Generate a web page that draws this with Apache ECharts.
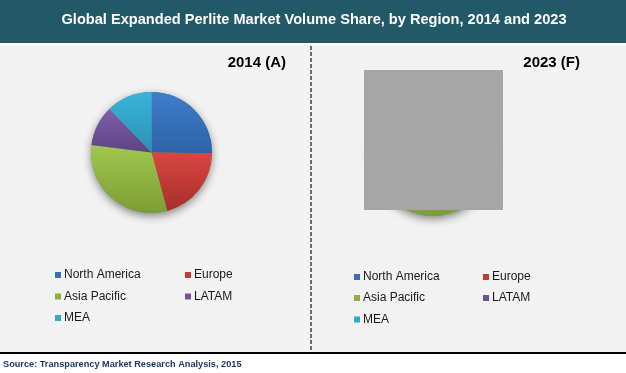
<!DOCTYPE html>
<html>
<head>
<meta charset="utf-8">
<script src="https://cdn.jsdelivr.net/npm/echarts@6/dist/echarts.min.js"></script>
<style>
html,body{margin:0;padding:0;background:#fff;}
#c{width:626px;height:373px;}
</style>
</head>
<body>
<div id="c"></div>
<script>
var regions = ['North America', 'Europe', 'Asia Pacific', 'LATAM', 'MEA'];
var share2014 = [25.2, 20.6, 31.2, 10.8, 12.2];
var share2023 = [24.0, 18.0, 35.0, 11.0, 12.0];
var titleText = 'Global Expanded Perlite Market Volume Share, by Region, 2014 and 2023';
var panelTitles = ['2014 (A)', '2023 (F)'];
var sourceText = 'Source: Transparency Market Research Analysis, 2015';

var gradTop = ['#3d7dcb', '#db4541', '#9fc84d', '#8060aa', '#38b5d8'];
var gradBot = ['#2e62a6', '#a62f2b', '#7c9d37', '#5c4285', '#2a92b3'];
var legendCol = ['#3a6fb8', '#c23a36', '#8fb03e', '#7350a0', '#34a8c8'];

var chart = echarts.init(document.getElementById('c'), null, {renderer: 'canvas'});

function pieData(vals) {
  return regions.map(function (r, i) {
    return {
      name: r, value: vals[i],
      itemStyle: {
        color: new echarts.graphic.LinearGradient(0, 0, 0, 1, [
          {offset: 0, color: gradTop[i]}, {offset: 1, color: gradBot[i]}
        ])
      }
    };
  });
}

function shadowPie(center, r) {
  return {
    type: 'pie', center: center, radius: r, silent: true, z: 1,
    label: {show: false}, labelLine: {show: false}, legendHoverLink: false,
    data: [{value: 1, name: '_shadow', itemStyle: {color: '#888',
      shadowBlur: 8, shadowOffsetY: 3, shadowOffsetX: 0, shadowColor: 'rgba(0,0,0,0.45)'}}],
    animation: false
  };
}

function mainPie(center, r, vals) {
  return {
    type: 'pie', center: center, radius: r, startAngle: 90, clockwise: true, z: 2,
    label: {show: false}, labelLine: {show: false},
    emphasis: {disabled: true},
    itemStyle: {borderWidth: 0},
    data: pieData(vals), animation: false
  };
}

var legendPos = [
  // left panel
  [55, 276, 0], [185, 276, 1], [55, 297.5, 2], [185, 297.5, 3], [55, 319, 4],
  // right panel
  [354, 278, 0], [483, 278, 1], [354, 299, 2], [483, 299, 3], [354, 320.5, 4]
];
var legends = legendPos.map(function (p) {
  var i = p[2];
  return {
    left: p[0], top: p[1] - 7, padding: 0, orient: 'horizontal',
    itemWidth: 6, itemHeight: 6, icon: 'rect', itemGap: 0,
    selectedMode: false,
    textStyle: {fontFamily: 'Liberation Sans, Arial, sans-serif', fontSize: 12, color: '#1a1a1a', padding: [0, 0, 0, -2]},
    data: [{name: regions[i], itemStyle: {color: legendCol[i]}}]
  };
});

var option = {
  backgroundColor: '#ffffff',
  animation: false,
  legend: legends,
  graphic: [
    {type: 'rect', shape: {x: 0, y: 0, width: 626, height: 43}, style: {fill: '#215967'}, z: -10},
    {type: 'rect', shape: {x: 0, y: 45, width: 626, height: 307}, style: {fill: '#f2f2f2'}, z: -10},
    {type: 'text', x: 314, y: 20, style: {text: titleText, fill: '#ffffff', font: 'bold 14.6px "Liberation Sans", Arial, sans-serif', textAlign: 'center', textVerticalAlign: 'middle'}},
    {type: 'line', shape: {x1: 311, y1: 46, x2: 311, y2: 351}, style: {stroke: '#222', lineWidth: 1.3, lineDash: [4, 2]}, z: 5},
    {type: 'text', x: 286, y: 63, style: {text: panelTitles[0], fill: '#000', font: 'bold 15px "Liberation Sans", Arial, sans-serif', textAlign: 'right', textVerticalAlign: 'middle'}},
    {type: 'text', x: 580, y: 63, style: {text: panelTitles[1], fill: '#000', font: 'bold 15px "Liberation Sans", Arial, sans-serif', textAlign: 'right', textVerticalAlign: 'middle'}},
    {type: 'rect', shape: {x: 364, y: 70, width: 139, height: 140}, style: {fill: '#a6a6a6'}, z: 100},
    {type: 'rect', shape: {x: 0, y: 352, width: 626, height: 2}, style: {fill: '#000'}, z: 5},
    {type: 'text', x: 3, y: 364, style: {text: sourceText, fill: '#1f3864', font: 'bold 9.2px "Liberation Sans", Arial, sans-serif', textAlign: 'left', textVerticalAlign: 'middle'}}
  ],
  series: [
    shadowPie([151.5, 152.5], 60.5),
    mainPie([151.5, 152.5], 60.5, share2014),
    shadowPie([433, 154], 62),
    mainPie([433, 154], 62, share2023)
  ]
};
chart.setOption(option);
</script>
</body>
</html>
